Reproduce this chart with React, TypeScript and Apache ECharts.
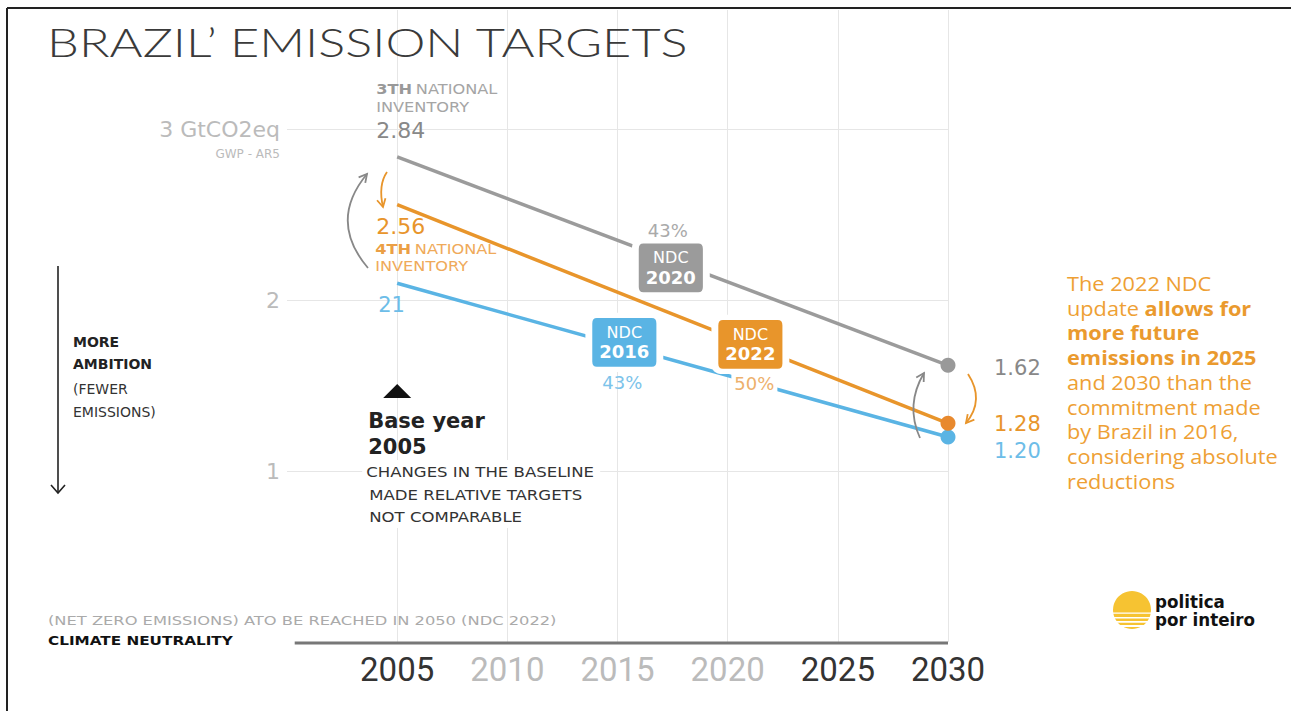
import React, { useEffect, useRef } from 'react';
import * as echarts from 'echarts';

// ---------- data ----------
const years = [2005, 2030];
const ndc2020 = [2.84, 1.62];
const ndc2022 = [2.56, 1.28];
const ndc2016 = [2.1, 1.2];
const startLabels = ['2.84', '2.56', '21'];
const endLabels = ['1.62', '1.28', '1.20'];
const xTicks = [2005, 2010, 2015, 2020, 2025, 2030];
const darkYears = [2005, 2025, 2030];
const yTickLabels: Record<string, string> = { '1': '1', '2': '2', '3': '3 GtCO2eq' };
const badgeYears = ['2020', '2016', '2022'];
const badgeAnchors: [number, number][] = [
  [2017.42, 2.19],
  [2015.31, 1.754],
  [2021.03, 1.742],
];
const badgePercents = ['43%', '43%', '50%'];

const GRAY = '#9b9b9b';
const ORANGE = '#E8952B';
const BLUE = '#5AB4E4';
const TXT_ORANGE = '#EEA034';

const DV = 'DejaVu Sans';

function roundRectPath(W: number, H: number, r: number) {
  return `path://M${r},0H${W - r}Q${W},0 ${W},${r}V${H - r}Q${W},${H} ${W - r},${H}H${r}Q0,${H} 0,${H - r}V${r}Q0,0 ${r},0Z`;
}

export default function App() {
  const ref = useRef<HTMLDivElement>(null);

  useEffect(() => {
    document.body.style.margin = '0';
    document.body.style.overflow = 'hidden';
    if (!ref.current) return;
    const chart = echarts.init(ref.current, undefined, { renderer: 'svg' });

    const badgeSym = roundRectPath(71, 54, 8);
    const mkSeries = (name: string, vals: number[], color: string, dot: string, idx: number) => ({
      type: 'line',
      name,
      data: years.map((y, i) => ({
        value: [y, vals[i]],
        symbol: i === years.length - 1 ? 'circle' : 'none',
        symbolSize: 15,
        itemStyle: { color: dot },
      })),
      showSymbol: true,
      lineStyle: { color, width: 3.5 },
      itemStyle: { color: dot },
      silent: true,
      markPoint: {
        silent: true,
        symbol: badgeSym,
        symbolSize: [71, 54],
        itemStyle: { color, borderColor: '#fff', borderWidth: 6 },
        label: {
          show: true,
          position: 'inside',
          formatter: `{a|NDC}\n{b|${badgeYears[idx]}}`,
          rich: {
            a: { fontFamily: DV, fontSize: 16, color: '#fff', lineHeight: 19, align: 'center' },
            b: { fontFamily: DV, fontSize: 18, fontWeight: 'bold', color: '#fff', lineHeight: 20, align: 'center' },
          },
        },
        data: [{ coord: badgeAnchors[idx] }],
      },
    });

    const option: any = {
      animation: false,
      backgroundColor: '#fff',
      grid: { left: 287, right: 343, top: 10, bottom: 69, outerBoundsMode: 'none' },
      xAxis: {
        type: 'value',
        min: 2000,
        max: 2030,
        interval: 5,
        axisLine: { show: false },
        axisTick: { show: false },
        splitLine: { show: true, showMinLine: false, lineStyle: { color: '#e6e6e6', width: 1 } },
        axisLabel: {
          margin: 11,
          fontFamily: 'Roboto',
          fontSize: 33,
          formatter: (v: number) => (xTicks.includes(Number(v)) ? String(v) : ''),
          color: (v: any) => (darkYears.includes(Number(v)) ? '#333' : '#bbb'),
        },
      },
      yAxis: {
        type: 'value',
        min: 0,
        max: 3.7,
        interval: 1,
        axisLine: { show: false },
        axisTick: { show: false },
        splitLine: { show: true, showMinLine: false, showMaxLine: false, lineStyle: { color: '#e6e6e6', width: 1 } },
        axisLabel: {
          margin: 7,
          fontFamily: DV,
          fontSize: 22,
          color: '#bbb',
          formatter: (v: number) => yTickLabels[String(v)] ?? '',
        },
      },
      series: [
        mkSeries('NDC 2016', ndc2016, BLUE, BLUE, 1),
        mkSeries('NDC 2022', ndc2022, ORANGE, '#E8892E', 2),
        mkSeries('NDC 2020', ndc2020, GRAY, '#999', 0),
      ],
    };
    chart.setOption(option);

    const px = (x: number, y: number) => chart.convertToPixel({ gridIndex: 0 }, [x, y]) as number[];
    const ctx = document.createElement('canvas').getContext('2d')!;
    const fit = (text: string, font: string, target: number) => {
      ctx.font = font;
      const w = ctx.measureText(text).width;
      return w > 0 ? Math.min(1.4, Math.max(0.8, target / w)) : 1;
    };

    const els: any[] = [];
    const txt = (x: number, y: number, text: string, o: any = {}) => {
      const { scaleX, ...style } = o;
      els.push({
        type: 'text',
        x,
        y,
        scaleX: scaleX ?? 1,
        z: 100,
        silent: true,
        style: {
          text,
          fontFamily: DV,
          fontSize: 15,
          fill: '#222',
          align: 'left',
          verticalAlign: 'middle',
          ...style,
        },
      });
    };
    const arrow = (s: number[], c: number[], e: number[], color: string) => {
      const dx = e[0] - c[0];
      const dy = e[1] - c[1];
      const L = Math.hypot(dx, dy);
      const ux = dx / L;
      const uy = dy / L;
      const len = 9;
      const wing = (a: number) => [
        e[0] - len * (ux * Math.cos(a) - uy * Math.sin(a)),
        e[1] - len * (uy * Math.cos(a) + ux * Math.sin(a)),
      ];
      els.push({
        type: 'bezierCurve',
        z: 100,
        silent: true,
        shape: { x1: s[0], y1: s[1], cpx1: c[0], cpy1: c[1], x2: e[0], y2: e[1] },
        style: { stroke: color, lineWidth: 1.8, fill: 'none' },
      });
      els.push({
        type: 'polyline',
        z: 100,
        silent: true,
        shape: { points: [wing(0.5), e, wing(-0.5)] },
        style: { stroke: color, lineWidth: 1.8, fill: 'none' },
      });
    };

    // frame
    els.push({ type: 'line', z: 100, shape: { x1: 7, y1: 8, x2: 1291, y2: 8 }, style: { stroke: '#222', lineWidth: 2 } });
    els.push({ type: 'line', z: 100, shape: { x1: 7, y1: 8, x2: 7, y2: 711 }, style: { stroke: '#222', lineWidth: 2 } });

    // x axis baseline
    const a0 = px(2000.35, 0);
    const a1 = px(years[1], 0);
    els.push({
      type: 'line',
      z: 90,
      shape: { x1: a0[0], y1: a0[1] + 1, x2: a1[0], y2: a1[1] + 1 },
      style: { stroke: '#777', lineWidth: 3 },
    });

    // title
    const titleText = 'BRAZIL’ EMISSION TARGETS';
    txt(47, 42, titleText, {
      fontFamily: 'Lato',
      fontWeight: 300,
      fontSize: 40,
      fill: '#3a3a3a',
      scaleX: fit(titleText, '300 40px Lato', 643),
    });

    // y axis sub label
    const p3 = px(2000, 3);
    txt(p3[0] - 7, p3[1] + 24, 'GWP - AR5', { align: 'right', fontSize: 12, fill: '#bbb' });

    // start labels
    const s20 = px(years[0], ndc2020[0]);
    const s22 = px(years[0], ndc2022[0]);
    const s16 = px(years[0], ndc2016[0]);
    txt(s20[0] - 21, s20[1] - 26, startLabels[0], { fontSize: 22, fill: '#888' });
    txt(s22[0] - 21, s22[1] + 22, startLabels[1], { fontSize: 22, fill: ORANGE });
    txt(s16[0] - 19, s16[1] + 22, startLabels[2], { fontSize: 21, fill: '#6dbde8' });

    const invScale = fit('INVENTORY', `14px "${DV}"`, 93);
    els.push({
      type: 'text',
      x: s20[0] - 21,
      y: s20[1] - 77,
      z: 100,
      scaleX: invScale,
      style: {
        text: '{b|3TH} {n|NATIONAL}\n{n|INVENTORY}',
        align: 'left',
        verticalAlign: 'top',
        rich: {
          b: { fontFamily: DV, fontSize: 14, fontWeight: 'bold', fill: '#999', lineHeight: 18 },
          n: { fontFamily: DV, fontSize: 14, fill: '#a5a5a5', lineHeight: 18 },
        },
      },
    });
    els.push({
      type: 'text',
      x: s22[0] - 22,
      y: s22[1] + 36,
      z: 100,
      scaleX: invScale,
      style: {
        text: '{b|4TH} {n|NATIONAL}\n{n|INVENTORY}',
        align: 'left',
        verticalAlign: 'top',
        rich: {
          b: { fontFamily: DV, fontSize: 14, fontWeight: 'bold', fill: '#EB9F45', lineHeight: 17 },
          n: { fontFamily: DV, fontSize: 14, fill: '#EFAA5A', lineHeight: 17 },
        },
      },
    });

    // left arrows
    arrow([368, 268], [328, 221], [367, 174], '#888');
    arrow([387, 172], [378, 185], [383, 207], ORANGE);

    // badge percents
    const b20 = px(badgeAnchors[0][0], badgeAnchors[0][1]);
    const b16 = px(badgeAnchors[1][0], badgeAnchors[1][1]);
    const b22 = px(badgeAnchors[2][0], badgeAnchors[2][1]);
    txt(b20[0] - 3, b20[1] - 37, badgePercents[0], { align: 'center', fontSize: 18, fill: '#aaa' });
    txt(b16[0] - 2, b16[1] + 40, badgePercents[1], { align: 'center', fontSize: 18, fill: '#7cc3ea' });
    txt(b22[0] + 4, b22[1] + 39, badgePercents[2], {
      align: 'center',
      fontSize: 18,
      fill: '#EDB06C',
      backgroundColor: '#fff',
      padding: [1, 3],
    });

    // end labels
    const e20 = px(years[1], ndc2020[1]);
    const e22 = px(years[1], ndc2022[1]);
    const e16 = px(years[1], ndc2016[1]);
    txt(e20[0] + 46, e20[1] + 3, endLabels[0], { fontSize: 21, fill: '#888' });
    txt(e22[0] + 46, e22[1] + 1, endLabels[1], { fontSize: 21, fill: ORANGE });
    txt(e16[0] + 46, e16[1] + 14, endLabels[2], { fontSize: 21, fill: '#6dbde8' });

    // right arrows
    arrow([920, 438], [905, 405], [924, 373], '#888');
    arrow([968, 374], [985, 400], [966, 423], ORANGE);

    // right paragraph
    const paraScale = fit('considering absolute', '400 20px "Open Sans"', 211);
    els.push({
      type: 'text',
      x: 1067,
      y: 271,
      z: 100,
      scaleX: paraScale,
      style: {
        text:
          '{n|The 2022 NDC}\n{n|update }{b|allows for}\n{b|more future}\n{b|emissions in 2025}\n{n|and 2030 than the}\n{n|commitment made}\n{n|by Brazil in 2016,}\n{n|considering absolute}\n{n|reductions}',
        align: 'left',
        verticalAlign: 'top',
        rich: {
          n: { fontFamily: 'Open Sans', fontSize: 20, fontWeight: 500, fill: TXT_ORANGE, lineHeight: 24.7 },
          b: { fontFamily: 'Open Sans', fontSize: 20, fontWeight: 'bold', fill: '#EA9A2E', lineHeight: 24.7 },
        },
      },
    });

    // left ambition arrow
    els.push({ type: 'line', z: 100, shape: { x1: 58, y1: 266, x2: 58, y2: 493 }, style: { stroke: '#222', lineWidth: 1.6 } });
    els.push({
      type: 'polyline',
      z: 100,
      shape: { points: [[51, 485], [58, 493], [65, 485]] },
      style: { stroke: '#222', lineWidth: 1.6, fill: 'none' },
    });
    txt(73, 342, 'MORE', { fontWeight: 'bold', fontSize: 14 });
    txt(73, 364, 'AMBITION', { fontWeight: 'bold', fontSize: 14 });
    txt(73, 389, '(FEWER', { fontSize: 14, fill: '#333' });
    txt(73, 412, 'EMISSIONS)', { fontSize: 14, fill: '#333' });

    // base year block
    const bx = px(years[0], 0)[0];
    els.push({
      type: 'polygon',
      z: 100,
      shape: { points: [[bx, 384], [bx - 14, 398], [bx + 14, 398]] },
      style: { fill: '#111' },
    });
    txt(bx - 29, 421, 'Base year', { fontWeight: 'bold', fontSize: 21, fill: '#222' });
    txt(bx - 29, 447, '2005', { fontWeight: 'bold', fontSize: 21, fill: '#222' });
    els.push({ type: 'rect', z: 99, shape: { x: bx - 35, y: 460, width: 238, height: 68 }, style: { fill: '#fff' } });
    const chScale = fit('CHANGES IN THE BASELINE', `14px "${DV}"`, 228);
    txt(bx - 31, 472, 'CHANGES IN THE BASELINE', { fontSize: 14, fill: '#333', scaleX: chScale });
    txt(bx - 28, 495, 'MADE RELATIVE TARGETS', { fontSize: 14, fill: '#333', scaleX: chScale });
    txt(bx - 28, 517, 'NOT COMPARABLE', { fontSize: 14, fill: '#333', scaleX: chScale });

    // bottom notes
    const nz = '(NET ZERO EMISSIONS) ATO BE REACHED IN 2050 (NDC 2022)';
    txt(48, 620, nz, { fontSize: 13, fill: '#aaa', scaleX: fit(nz, `13px "${DV}"`, 509) });
    txt(48, 640, 'CLIMATE NEUTRALITY', {
      fontSize: 13,
      fontWeight: 'bold',
      fill: '#111',
      scaleX: fit('CLIMATE NEUTRALITY', `bold 13px "${DV}"`, 185),
    });

    // logo
    els.push({ type: 'circle', z: 100, shape: { cx: 1132, cy: 610, r: 19 }, style: { fill: '#F6C332' } });
    [612.5, 617, 621, 625].forEach((yy, i) => {
      els.push({
        type: 'rect',
        z: 101,
        shape: { x: 1110, y: yy, width: 44, height: 1.2 + i * 0.3 },
        style: { fill: '#fff' },
      });
    });
    const logoFont = `bold 17px "${DV}"`;
    const logoScale = fit('por inteiro', logoFont, 100);
    txt(1155, 602, 'politica', { fontFamily: DV, fontWeight: 'bold', fontSize: 17, fill: '#111', scaleX: logoScale });
    txt(1155, 620, 'por inteiro', { fontFamily: DV, fontWeight: 'bold', fontSize: 17, fill: '#111', scaleX: logoScale });

    chart.setOption({ graphic: { elements: els } });

    return () => {
      chart.dispose();
    };
  }, []);

  return <div ref={ref} style={{ width: 1291, height: 711 }} />;
}
